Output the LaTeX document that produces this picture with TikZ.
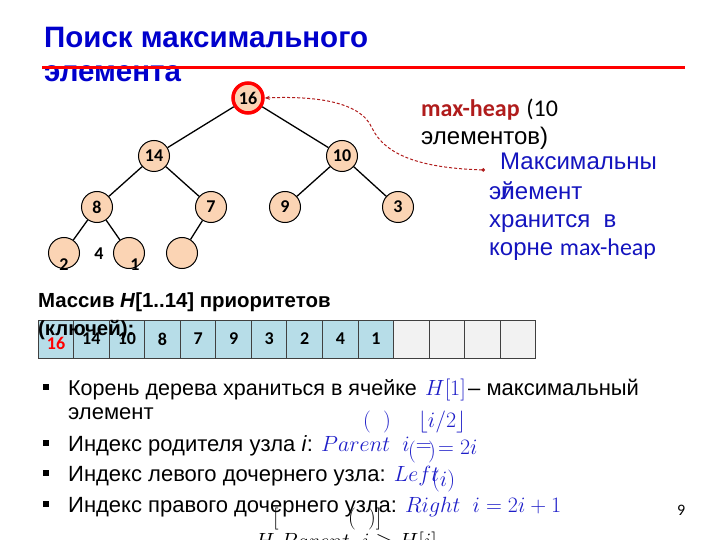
\RequirePackage{fix-cm}
\documentclass[tikz,border=0pt]{standalone}
\usepackage[no-math]{fontspec}
\setmainfont{Liberation Sans}
\newfontfamily\calf{Carlito}
\usetikzlibrary{arrows.meta}
\definecolor{titleblue}{RGB}{0,0,204}
\definecolor{peach}{RGB}{251,212,180}
\definecolor{aqua}{RGB}{183,221,232}
\definecolor{emptyc}{RGB}{242,242,242}
\definecolor{cellborder}{RGB}{64,64,64}
\definecolor{darkred}{RGB}{176,28,28}
\definecolor{txtblue}{RGB}{20,20,190}
\definecolor{mathblue}{RGB}{30,30,200}
\tikzset{
  tnode/.style={circle, draw=black, line width=1pt, fill=peach, minimum size=31pt, inner sep=0pt, font=\calf\bfseries\fontsize{18}{18}\selectfont},
  rootnode/.style={tnode, draw=red, line width=3.5pt, minimum size=30pt},
  lbl/.style={inner sep=0pt, font=\calf\bfseries\fontsize{18}{18}\selectfont},
  cell/.style={draw=cellborder, line width=1pt, fill=aqua, minimum width=35.57pt, minimum height=38pt, inner sep=0pt, font=\calf\bfseries\fontsize{18}{18}\selectfont},
  ecell/.style={cell, fill=emptyc},
  txt/.style={anchor=base west, inner sep=0pt},
  edge/.style={line width=1.3pt, black}
}
\begin{document}
\begin{tikzpicture}[x=1pt,y=-1pt]
\useasboundingbox (0,0) rectangle (720,540);
% title
\node[txt, text=titleblue, font=\bfseries\fontsize{29.5}{29.5}\selectfont] (t1) at (44,48) {Поиск максимального};
\node[txt, text=titleblue, font=\bfseries\fontsize{29.5}{29.5}\selectfont] (t2) at (44,82) {элемента};
\draw[red, line width=3pt] (42,68) -- (685,68);
% tree
\node[rootnode] (n16) at (248,98) {16};
\node[tnode] (n14) at (154,156) {14};
\node[tnode] (n10) at (342,156) {10};
\node[tnode] (n8) at (97,207) {8};
\node[tnode] (n7) at (211,207) {7};
\node[tnode] (n9) at (285,207) {9};
\node[tnode] (n3) at (398,207) {3};
\node[tnode] (l1) at (64,253) {};
\node[tnode] (l2) at (129,253) {};
\node[tnode] (l3) at (182,253) {};
\node[lbl, anchor=base] (lb2) at (64,270) {2};
\node[lbl, anchor=base] (lb4) at (99,259) {4};
\node[lbl, anchor=base] (lb1) at (135,270) {1};
\draw[edge] (n16) -- (n14);
\draw[edge] (n16) -- (n10);
\draw[edge] (n14) -- (n8);
\draw[edge] (n14) -- (n7);
\draw[edge] (n10) -- (n9);
\draw[edge] (n10) -- (n3);
\draw[edge] (n8) -- (l1);
\draw[edge] (n8) -- (l2);
\draw[edge] (n7) -- (l3);
% annotation
\node[txt, font=\fontsize{24}{24}\selectfont] (mh1) at (421,117) {{\calf\bfseries\color{darkred}max-heap} {\calf(10}};
\node[txt, font=\fontsize{24}{24}\selectfont] (mh2) at (421,145) {элементов)};
\coordinate (dotc) at (485,170);
\draw[darkred, line width=1pt, dash pattern=on 3pt off 2pt, {Circle[length=3.5pt]}-{Stealth[length=5pt,width=4pt]}]
  (dotc) .. controls (420,168) and (385,155) .. (372,128) .. controls (360,100) and (310,96) .. (n16.east);
\begin{scope}[text=txtblue, font=\fontsize{24}{24}\selectfont]
\node[txt] (b1) at (500,170) {Максимальны};
\node[txt] (b2) at (489,200) {элемент};
\node[txt] (b2y) at (501,200) {й};
\node[txt] (b3) at (489,227) {хранится\ \ в};
\node[txt] (b4) at (489,255) {корне {\calf max-heap}};
\end{scope}
% array
\node[txt, font=\bfseries\fontsize{20.4}{20.4}\selectfont] (al1) at (38,307) {Массив \textit{H}[1..14] приоритетов};
\foreach \v [count=\k] in {,14,10,8,7,9,3,2,4,1} {
  \node[cell] (c\k) at ({38+35.57*(\k-0.5)},339) {\v};
}
\foreach \k in {11,...,14} {
  \node[ecell] (c\k) at ({38+35.57*(\k-0.5)},339) {};
}
\node[lbl, text=red, anchor=base] (c1t) at (56,349) {16};
\node[txt, font=\bfseries\fontsize{20.4}{20.4}\selectfont] (al2) at (38,335) {(ключей):};
% bullets
\begin{scope}[font=\fontsize{22}{22}\selectfont]
\foreach \y [count=\k] in {395,451,481,512} {
  \fill (43,\y-11) rectangle ++(6,6);
}
\node[txt, font=\fontsize{21.5}{21.5}\selectfont] (r1) at (68,395) {Корень дерева храниться в ячейке};
\node[txt, text=mathblue] (r1m) at (425,395) {$H[1]$};
\node[txt] (r1c) at (468,395) {– максимальный};
\node[txt] (r1b) at (68,419) {элемент};
\node[txt, text=mathblue] (f1) at (363,427) {$(\ \ )$};
\node[txt, text=mathblue] (f2) at (418,427) {$\lfloor i/2\rfloor$};
\node[txt] (r2) at (68,451) {Индекс родителя узла \textit{i}: {\color{mathblue}$Parent\ \ i=$}};
\node[txt, text=mathblue] (f3) at (408,457) {$(\ \ )$};
\node[txt, text=mathblue] (f4) at (438,454) {$=2i$};
\node[txt] (r3) at (68,481) {Индекс левого дочернего узла: {\color{mathblue}$Left$}};
\node[txt, text=mathblue] (f5) at (432,486) {$(i)$};
\node[txt] (r4) at (68,512) {Индекс правого дочернего узла: {\color{mathblue}$Right\ \ i=2i+1$}};
\node[txt] (f6) at (273,524) {$[$};
\node[txt] (f7) at (348,524) {$(\ \ )]$};
\node[txt] (f8) at (255,548) {$H\ Parent\ \ i\ge H[i]$};
\end{scope}
\node[txt, font=\calf\fontsize{16}{16}\selectfont] (pg) at (677,515) {9};
\end{tikzpicture}
\end{document}
